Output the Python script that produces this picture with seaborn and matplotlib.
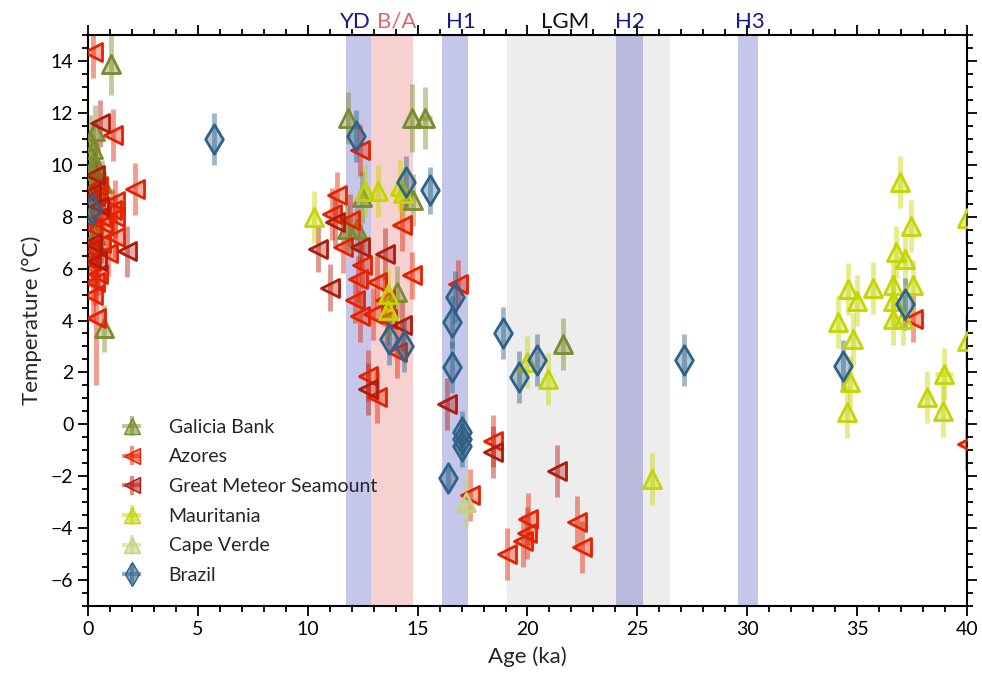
import numpy as np
import pandas as pd
import matplotlib
matplotlib.use("Agg")
import matplotlib.pyplot as plt
import seaborn as sns
from matplotlib.colors import to_rgba
from matplotlib.ticker import MultipleLocator

# ---- data: age (ka), temperature (°C), 1-sigma temperature error ----
galicia_age = [1.05, 0.30, 0.23, 0.35, 0.40, 0.65, 0.20, 0.30, 0.73, 0.10, 0.15,
               11.83, 14.74, 15.35, 12.45, 14.80, 11.77, 12.23, 14.05, 21.60]
galicia_temp = [13.9, 11.3, 10.6, 10.0, 9.4, 9.3, 8.2, 7.3, 3.7, 10.9, 9.8,
                11.8, 11.8, 11.8, 8.76, 8.63, 7.54, 7.54, 5.1, 3.1]
galicia_err = [1.2, 1.0, 1.0, 0.9, 0.9, 0.9, 0.9, 0.9, 0.9, 1.0, 0.9,
               1.0, 1.3, 1.2, 1.0, 1.0, 0.9, 0.9, 1.0, 1.0]
galicia_age_err = [0, 0, 0, 0, 0, 0, 0, 0, 0, 0, 0,
                   0, 0, 0.3, 0, 0, 0, 0, 0, 0]

azores_age = [0.23, 1.14, 2.14, 1.23, 1.10, 1.23, 1.23, 0.90, 0.45, 0.23, 0.35,
              0.30, 0.60, 0.20, 0.60, 0.15, 0.45, 0.70, 0.10, 0.30,
              12.38, 11.32, 11.09, 11.92, 11.60, 14.27, 12.45, 14.73, 12.30, 13.14,
              12.38, 12.98, 13.59, 14.05, 12.76, 13.14, 16.85, 13.50, 12.15,
              18.45, 17.38, 20.04, 19.96, 19.81, 19.05, 22.24, 22.46,
              37.54, 40.0]
azores_temp = [14.35, 11.15, 9.05, 8.6, 8.25, 7.97, 7.2, 6.6, 5.8, 4.97, 4.1,
               8.8, 8.0, 7.6, 7.0, 6.3, 9.2, 7.7, 6.8, 5.5,
               10.56, 8.83, 8.12, 7.86, 6.83, 7.67, 6.12, 5.74, 5.6, 5.48,
               4.19, 4.26, 4.06, 2.78, 1.88, 1.04, 5.42, 4.8, 4.8,
               -0.63, -2.72, -3.66, -4.17, -4.5, -5.0, -3.75, -4.73,
               4.07, -0.75]
azores_err = [1.0, 1.0, 1.0, 0.8, 0.8, 0.8, 0.8, 0.9, 0.8, 1.0, 2.6,
              0.9, 0.9, 0.8, 0.8, 1.0, 0.9, 0.8, 0.9, 0.9,
              1.0, 0.9, 1.0, 1.0, 1.0, 1.0, 0.9, 0.9, 0.9, 1.0,
              1.0, 1.0, 1.0, 1.0, 1.0, 1.0, 0.9, 1.0, 0.9,
              1.0, 1.0, 1.0, 1.0, 1.0, 1.0, 1.0, 1.0,
              0.9, 1.0]

gms_age = [0.55, 0.30, 0.50, 0.20, 1.77, 0.15, 0.40,
           11.24, 10.48, 12.38, 13.50, 11.00, 14.27, 12.76,
           16.32, 18.45, 21.33]
gms_temp = [11.6, 9.6, 8.4, 7.0, 6.66, 8.9, 6.3,
            7.8, 6.77, 6.83, 6.57, 5.26, 3.81, 1.36,
            0.78, -1.08, -1.79]
gms_err = [0.9, 0.9, 0.9, 0.9, 1.0, 0.9, 1.0,
           0.9, 0.9, 0.9, 1.0, 0.9, 1.0, 1.0,
           1.0, 1.0, 1.0]

mauritania_age = [10.3, 12.6, 13.2, 14.2, 14.35, 13.67, 13.67, 19.96, 20.95, 25.65,
                  36.95, 37.44, 36.77, 37.18, 34.60, 34.98, 35.71, 36.65, 37.53,
                  36.65, 36.65, 37.10, 34.14, 34.83, 34.68, 34.53, 38.20, 38.95,
                  38.92, 40.0, 40.0]
mauritania_temp = [8.0, 9.0, 9.0, 9.2, 8.9, 5.03, 4.39, 2.39, 1.75, -2.11,
                   9.34, 7.63, 6.64, 6.38, 5.22, 4.77, 5.25, 5.35, 5.35,
                   4.77, 4.06, 4.06, 3.93, 3.29, 1.62, 0.46, 1.04, 1.94,
                   0.52, 7.94, 3.23]
mauritania_err = [1.0] * len(mauritania_age)
mauritania_age_err = [0] * 27 + [0.4, 0, 0, 0]

capeverde_age = [17.2]
capeverde_temp = [-3.0]
capeverde_err = [1.0]

brazil_age = [5.73, 12.2, 14.47, 15.56, 13.71, 14.38, 16.7, 16.55, 16.55, 18.9,
              20.42, 19.63, 17.0, 17.0, 17.0, 16.4, 27.12, 34.37, 37.18, 0.18]
brazil_temp = [11.0, 11.1, 9.34, 9.02, 3.29, 3.03, 4.9, 3.93, 2.2, 3.51,
               2.48, 1.81, -0.3, -0.55, -0.85, -2.05, 2.48, 2.26, 4.64, 8.3]
brazil_err = [1.0, 1.0, 1.0, 0.9, 1.0, 1.0, 1.0, 1.0, 1.0, 1.0,
              1.0, 1.0, 0.8, 0.8, 0.8, 0.5, 1.0, 1.0, 1.0, 1.0]

# climate events: (label, start ka, end ka)
events = [("YD", 11.75, 12.9), ("B/A", 12.9, 14.8), ("H1", 16.1, 17.3),
          ("LGM", 19.05, 26.5), ("H2", 24.05, 25.25), ("H3", 29.6, 30.5)]
event_label_x = {"YD": 12.15, "B/A": 14.05, "H1": 16.95, "LGM": 21.7,
                 "H2": 24.65, "H3": 30.1}

# ---- styling ----
sns.set_style("ticks")
plt.rcParams["font.family"] = ["Lato", "DejaVu Sans"]

series = [
    ("Galicia Bank", galicia_age, galicia_temp, galicia_err, galicia_age_err, "^", "#7a8b2c", 13),
    ("Azores", azores_age, azores_temp, azores_err, None, "<", "#e52200", 13),
    ("Great Meteor Seamount", gms_age, gms_temp, gms_err, None, "<", "#b01b0b", 13),
    ("Mauritania", mauritania_age, mauritania_temp, mauritania_err, mauritania_age_err, "^", "#c4d500", 13),
    ("Cape Verde", capeverde_age, capeverde_temp, capeverde_err, None, "^", "#c6d27c", 13),
    ("Brazil", brazil_age, brazil_temp, brazil_err, None, "d", "#2f6189", 15),
]

fig = plt.figure(figsize=(9.82, 6.8), dpi=100)
ax = fig.add_axes([0.0896, 0.1088, 0.8951, 0.8397])

span_style = {
    "YD": dict(color="#c4c6ea"),
    "B/A": dict(color="#f7d0d0"),
    "H1": dict(color="#c4c6ea"),
    "LGM": dict(color="#ededed"),
    "H2": dict(color="#b9b9dc"),
    "H3": dict(color="#c4c6ea"),
}
label_color = {"YD": "#1a1a8c", "B/A": "#e06666", "H1": "#1a1a8c",
               "LGM": "#111111", "H2": "#1a1a8c", "H3": "#1a1a8c"}
for name, a, b in events:
    ax.axvspan(a, b, lw=0, zorder=0, **span_style[name])
    ax.text(event_label_x[name], 1.006, name, transform=ax.get_xaxis_transform(),
            ha="center", va="bottom", fontsize=16, color=label_color[name])

handles = []
for label, xs, ys, yerr, xerr, marker, color, ms in series:
    df = pd.DataFrame({"age": xs, "temp": ys})
    xe = None if xerr is None else np.array(xerr, dtype=float)
    ax.errorbar(df["age"], df["temp"], yerr=yerr, xerr=xe, fmt="none",
                ecolor=to_rgba(color, 0.45), elinewidth=3.5, capsize=0, zorder=2)
    sns.scatterplot(data=df, x="age", y="temp", ax=ax, marker=marker,
                    s=ms ** 2, color=color, edgecolor=color, linewidth=2.0,
                    legend=False, zorder=3)
    ax.collections[-1].set_facecolor(to_rgba(color, 0.35))
    h = ax.errorbar([np.nan], [np.nan], yerr=[1], xerr=[1], fmt=marker,
                    markersize=12, color=color, mfc=to_rgba(color, 0.55),
                    mec=color, ecolor=to_rgba(color, 0.5), elinewidth=3,
                    label=label)
    handles.append(h)

ax.set_xlim(0, 40)
ax.set_ylim(-7, 15)
ax.xaxis.set_major_locator(MultipleLocator(5))
ax.xaxis.set_minor_locator(MultipleLocator(1))
ax.yaxis.set_major_locator(MultipleLocator(2))
ax.yaxis.set_minor_locator(MultipleLocator(0.5))
ax.tick_params(which="both", direction="out", top=True, right=True,
               labeltop=False, labelright=False, width=1.3, labelsize=14,
               colors="black")
ax.tick_params(which="major", length=7)
ax.tick_params(which="minor", length=4)
for sp in ax.spines.values():
    sp.set_linewidth(1.5)
    sp.set_color("black")

ax.set_xlabel("Age (ka)", fontsize=16, labelpad=6)
ax.set_ylabel("Temperature (°C)", fontsize=16, labelpad=6)

leg = ax.legend(handles=handles, loc="lower left", bbox_to_anchor=(0.012, 0.008),
                frameon=False, fontsize=14, handletextpad=1.1,
                labelspacing=0.65, handlelength=1.6)

fig.savefig("out.png", dpi=100)
